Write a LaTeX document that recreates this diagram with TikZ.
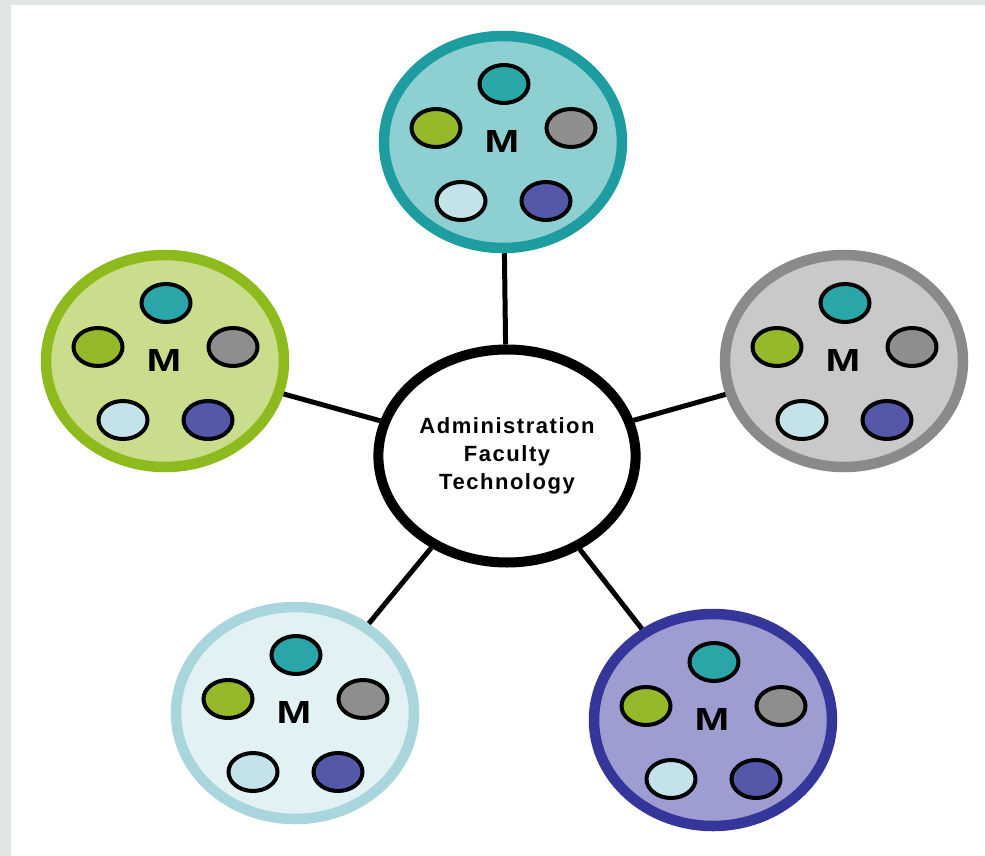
\documentclass[tikz,border=0pt]{standalone}
\usepackage{graphicx}
\usepackage{fontspec}
\setmainfont{Liberation Sans}
\usetikzlibrary{shapes.geometric}

\definecolor{pageedge}{HTML}{E1E5E3}
\definecolor{tealring}{HTML}{1E9DA0}
\definecolor{tealfill}{HTML}{8ED0D2}
\definecolor{greenring}{HTML}{8DBB1E}
\definecolor{greenfill}{HTML}{C9DD8C}
\definecolor{grayring}{HTML}{8A8A8A}
\definecolor{grayfill}{HTML}{C9C9C9}
\definecolor{palering}{HTML}{A9D5DC}
\definecolor{palefill}{HTML}{E2F1F3}
\definecolor{bluering}{HTML}{35369A}
\definecolor{bluefill}{HTML}{9D9DD2}
\definecolor{dotteal}{HTML}{2AA6A8}
\definecolor{dotgreen}{HTML}{95B92B}
\definecolor{dotgray}{HTML}{8E8E8E}
\definecolor{dotpale}{HTML}{C4E2EA}
\definecolor{dotblue}{HTML}{5557A8}

\tikzset{
  hub/.style={ellipse, draw=black, line width=10pt, fill=white,
    minimum width=237pt, minimum height=213pt, align=center,
    font=\fontsize{22}{28}\selectfont\bfseries\addfontfeatures{LetterSpace=7}},
  moduleshape/.style={ellipse, line width=10.5pt, minimum width=238pt, minimum height=212pt},
  dot/.style={ellipse, draw=black, line width=4pt, inner sep=0pt,
    minimum width=49pt, minimum height=38pt},
  mlabel/.style={font=\fontsize{32}{32}\selectfont\bfseries, inner sep=0pt},
  link/.style={line width=5pt}
}

% #1 name, #2 centre, #3 ring colour, #4 fill colour
\newcommand{\satellite}[4]{%
  \node[moduleshape, draw=#3, fill=#4] (#1) at #2 {};
  \node[mlabel] (#1-m) at ([shift={(-1,-1)}]#1.center) {\scalebox{1.3}[1]{M}};
  \node[dot, fill=dotteal] (#1-a) at ([shift={(1,-58)}]#1.center) {};
  \node[dot, fill=dotgreen] (#1-b) at ([shift={(-67,-14)}]#1.center) {};
  \node[dot, fill=dotgray] (#1-c) at ([shift={(68,-14)}]#1.center) {};
  \node[dot, fill=dotpale] (#1-d) at ([shift={(-42,59)}]#1.center) {};
  \node[dot, fill=dotblue] (#1-e) at ([shift={(43,59)}]#1.center) {};
}

\begin{document}
\begin{tikzpicture}[x=1pt, y=-1pt]
\useasboundingbox (0, 0) rectangle (985, 856);
\fill[pageedge] (0, 0) rectangle (985, 856);
\fill[white] (11, 5) rectangle (985, 856);

\node[hub] (hub) at (507, 456) {Administration\\Faculty\\Technology};

\satellite{top}{(503, 142)}{tealring}{tealfill}
\satellite{left}{(165, 361)}{greenring}{greenfill}
\satellite{right}{(844, 361)}{grayring}{grayfill}
\satellite{lowleft}{(295, 713)}{palering}{palefill}
\satellite{lowright}{(713, 720)}{bluering}{bluefill}

\draw[link] (hub) -- (top);
\draw[link] (hub) -- (left);
\draw[link] (hub) -- (right);
\draw[link] (hub) -- (lowleft);
\draw[link] (hub) -- (lowright);
\end{tikzpicture}
\end{document}
